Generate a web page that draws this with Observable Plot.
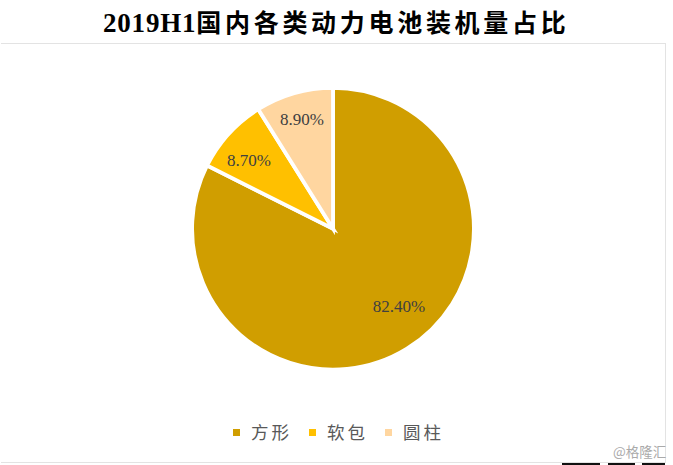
<!DOCTYPE html>
<html><head><meta charset="utf-8">
<script src="https://cdn.jsdelivr.net/npm/d3@7"></script>
<script src="https://cdn.jsdelivr.net/npm/@observablehq/plot@0.6"></script>
<style>
html,body{margin:0;padding:0;background:#fff;overflow:hidden}
#wrap{width:673px;height:465px;position:relative;overflow:hidden}
#title{position:absolute;left:103px;top:5px;font:bold 25px/36px "Liberation Serif","Noto Sans CJK SC",serif;color:#000;white-space:nowrap}
#title b{font-size:27px;letter-spacing:.8px}
#title span{letter-spacing:3.7px}
#frame{position:absolute;left:1px;top:43px;width:665px;height:420px;border-top:1px solid #e3e3e3;border-right:1px solid #e3e3e3;border-bottom:1px solid #e3e3e3;box-sizing:border-box}
#chart{position:absolute;left:0;top:44px}
#legend{position:absolute;top:421px;left:0;height:22px;font:17.5px/22px "Noto Sans CJK SC",sans-serif;color:#595959}
#legend span{position:absolute;white-space:nowrap;letter-spacing:3px}
#legend i{position:absolute;width:7px;height:7px;top:8px}
#mark{position:absolute;left:613px;top:443px;font:13.5px/16px "Noto Sans CJK SC",sans-serif;color:#aaa;white-space:nowrap}
.cut{position:absolute;top:463px;height:2px;background:#111}
</style></head><body>
<div id="wrap">
<div id="title"></div>
<div id="frame"></div>
<div id="chart"></div>
<div id="legend"></div>
<div id="mark">@格隆汇</div>
<div class="cut" style="left:562px;width:38px"></div>
<div class="cut" style="left:608px;width:27px"></div>
<div class="cut" style="left:642px;width:23px"></div>
</div>
<script>
const titleLatin = "2019H1";
const titleCjk = "国内各类动力电池装机量占比";
const categories = ["方形","软包","圆柱"];
const shares = [82.4,8.7,8.9];
const labels = ["82.40%","8.70%","8.90%"];
const colors = ["#d09e00","#ffc000","#ffd6a0"];
const legendSwatchX = [233,309,385];
const legendTextX = [251,327,403];

const tEl = document.getElementById("title");
const tA = document.createElement("b"); tA.textContent = titleLatin;
const tB = document.createElement("span"); tB.textContent = titleCjk;
tEl.append(tA, tB);

const rows = categories.map((c,i)=>({category:c,share:shares[i],label:labels[i]}));
const W = 665, H = 418, cx = 333, cy = 184.7, R = 140.9;
const pie = d3.pie().value(d=>d.share).sort(null)(rows);

function pieMark(index, scales, values, dims, ctx){
  const g = d3.select(ctx.document.createElementNS("http://www.w3.org/2000/svg","g"));
  const arc = d3.arc().innerRadius(0).outerRadius(R);
  g.selectAll("path").data(pie).join("path")
    .attr("transform",`translate(${cx},${cy})`)
    .attr("d",arc)
    .attr("fill",d=>scales.color(d.data.category))
    .attr("stroke","#fff").attr("stroke-width",3.8).attr("stroke-linejoin","miter");
  const pos = [[66,77],[-84,-69],[-31,-110]];
  g.selectAll("text").data(pie).join("text")
    .attr("transform",(d,i)=>`translate(${cx+pos[i][0]},${cy+pos[i][1]})`)
    .attr("text-anchor","middle").attr("dy","0.35em")
    .attr("font-family","Liberation Serif, serif").attr("font-size",17)
    .attr("fill","#404040").text(d=>d.data.label);
  return g.node();
}

const plot = Plot.plot({
  width:W,height:H,margin:0,
  x:{axis:null,domain:[0,1]},y:{axis:null,domain:[0,1]},
  color:{domain:categories,range:colors},
  style:{background:"transparent"},
  marks:[Plot.dot(rows,{x:()=>0.5,y:()=>0.5,fill:"category",render:pieMark})]
});
document.getElementById("chart").append(plot);

const lg = document.getElementById("legend");
categories.forEach((c,i)=>{
  const sw=document.createElement("i");sw.style.left=legendSwatchX[i]+"px";sw.style.background=colors[i];lg.append(sw);
  const t=document.createElement("span");t.style.left=legendTextX[i]+"px";t.textContent=c;lg.append(t);
});
</script></body></html>
